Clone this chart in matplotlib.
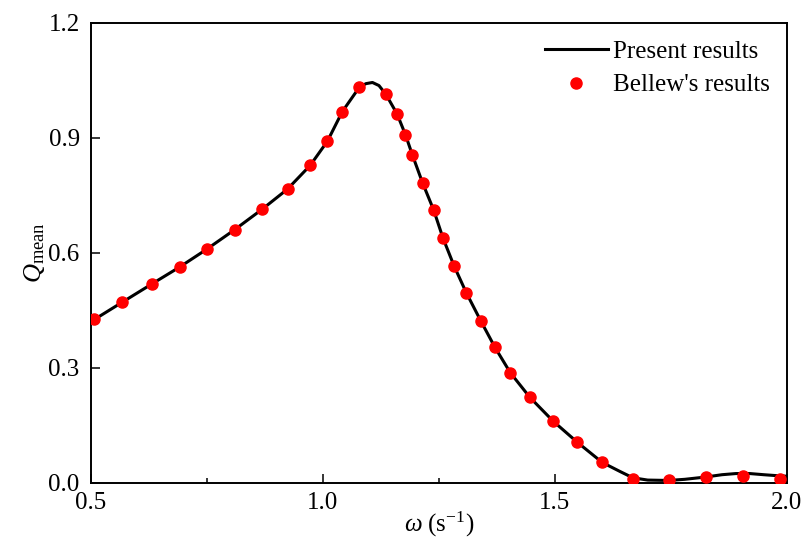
import matplotlib
matplotlib.use("Agg")
import matplotlib.pyplot as plt
from matplotlib.ticker import MultipleLocator, FormatStrFormatter

plt.rcParams['font.family'] = ['Liberation Serif', 'DejaVu Serif']
plt.rcParams['mathtext.fontset'] = 'custom'
plt.rcParams['mathtext.rm'] = 'Liberation Serif'
plt.rcParams['mathtext.it'] = 'Liberation Serif:italic'

# Present results (curve)
present_x = [0.500, 0.508, 0.568, 0.631, 0.692, 0.751, 0.810, 0.870, 0.924, 0.973,
             1.010, 1.042, 1.079, 1.093, 1.107, 1.121, 1.136, 1.160, 1.178, 1.193,
             1.215, 1.239, 1.259, 1.283, 1.309, 1.340, 1.371, 1.404, 1.446, 1.496,
             1.548, 1.602, 1.641, 1.668, 1.700, 1.745, 1.780, 1.825, 1.860, 1.890,
             1.920, 1.950, 1.984, 2.000]
present_y = [0.420, 0.426, 0.471, 0.518, 0.563, 0.610, 0.660, 0.714, 0.766, 0.828,
             0.891, 0.968, 1.032, 1.041, 1.044, 1.036, 1.013, 0.962, 0.908, 0.855,
             0.782, 0.711, 0.638, 0.565, 0.496, 0.423, 0.353, 0.287, 0.223, 0.161,
             0.106, 0.053, 0.029, 0.013, 0.007, 0.006, 0.009, 0.015, 0.021, 0.024,
             0.024, 0.021, 0.018, 0.017]

# Bellew's results (points)
bellew_x = [0.508, 0.568, 0.631, 0.692, 0.751, 0.810, 0.870, 0.924, 0.973, 1.010,
            1.042, 1.079, 1.136, 1.160, 1.178, 1.193, 1.215, 1.239, 1.259, 1.283,
            1.309, 1.340, 1.371, 1.404, 1.446, 1.496, 1.548, 1.602, 1.668, 1.745,
            1.825, 1.905, 1.984]
bellew_y = [0.426, 0.471, 0.518, 0.563, 0.610, 0.660, 0.714, 0.766, 0.828, 0.891,
            0.968, 1.032, 1.013, 0.962, 0.908, 0.855, 0.782, 0.711, 0.638, 0.565,
            0.496, 0.423, 0.353, 0.287, 0.223, 0.161, 0.106, 0.053, 0.011, 0.006,
            0.014, 0.017, 0.011]

fig = plt.figure(figsize=(8.03, 5.40), dpi=100)
ax = fig.add_axes([0.113, 0.106, 0.867, 0.852])

ax.plot(present_x, present_y, color='black', lw=2.2, label='Present results', zorder=2)
ax.plot(bellew_x, bellew_y, 'o', color='red', ms=8, mec='red', label="Bellew's results", zorder=3)

ax.set_xlim(0.5, 2.0)
ax.set_ylim(0.0, 1.2)
ax.xaxis.set_major_locator(MultipleLocator(0.5))
ax.xaxis.set_minor_locator(MultipleLocator(0.25))
ax.yaxis.set_major_locator(MultipleLocator(0.3))
ax.xaxis.set_major_formatter(FormatStrFormatter('%.1f'))
ax.yaxis.set_major_formatter(FormatStrFormatter('%.1f'))
ax.tick_params(axis='both', which='major', direction='in', length=6.5, width=1.1,
               labelsize=18, top=False, right=False)
ax.tick_params(axis='y', which='major', pad=8)
ax.tick_params(axis='x', which='major', pad=7)
ax.tick_params(axis='x', which='minor', direction='in', length=3.8, width=1.1, top=False)
for s in ax.spines.values():
    s.set_linewidth(1.4)

ax.set_xlabel(r'$\omega\ (\mathrm{s}^{-1})$', fontsize=18, labelpad=-3)
ax.set_ylabel(r'$Q_{\mathrm{mean}}$', fontsize=19, labelpad=1)

leg = ax.legend(loc='upper right', frameon=False, fontsize=18, handlelength=2.5,
                handletextpad=0.2, borderaxespad=0.4, labelspacing=0.45,
                borderpad=0.3)

fig.savefig('out.png', dpi=100)
